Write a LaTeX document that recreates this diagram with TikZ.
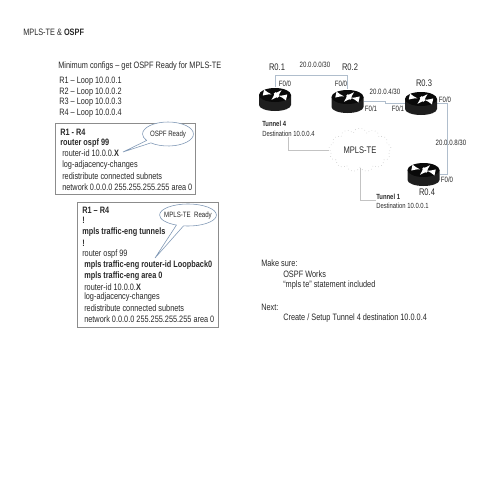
\documentclass[tikz,border=0pt]{standalone}
\usepackage{fontspec}
\setmainfont[FakeStretch=0.79]{Liberation Sans}
\usetikzlibrary{arrows}
\usetikzlibrary{shapes.symbols, shapes.callouts}
\definecolor{mylink}{RGB}{176,190,205}
\definecolor{mybox}{RGB}{140,140,140}
\definecolor{mycall}{RGB}{125,150,180}
\definecolor{mycloud}{RGB}{195,195,195}
\definecolor{myrouter}{RGB}{30,30,30}
\definecolor{mytext}{RGB}{40,40,40}
\tikzset{
  lbl/.style={anchor=west,inner sep=0,text=mytext,font=\fontsize{6.6}{7}\selectfont},
  small/.style={anchor=center,inner sep=0,text=mytext,font=\fontsize{5.5}{6}\selectfont},
  tiny/.style={anchor=west,inner sep=0,text=mytext,font=\fontsize{5.3}{6}\selectfont},
  rname/.style={anchor=center,inner sep=0,text=mytext,font=\fontsize{6.8}{7}\selectfont},
  rnode/.style={inner sep=0,minimum width=0.8cm,minimum height=0.57cm},
  link/.style={color=mylink,line width=0.7},
  tunnel/.style={color=mycloud,line width=0.5},
  cfgbox/.style={draw=mybox,line width=0.6},
  call/.style={shape=ellipse callout,draw=mycall,line width=0.4,fill=white,inner sep=0,text=mytext,font=\fontsize{5.5}{6}\selectfont},
  router/.pic={
    \fill[myrouter] (-16,-4) -- (-16,6) arc[start angle=180,end angle=360,x radius=16,y radius=-6] -- (16,-4) -- cycle;
    \fill[black!70!myrouter] (0,-4) ellipse[x radius=16,y radius=7];
    \foreach \a in {25,205}{
      \draw[-latex,white,line width=1] ({12*cos(\a)},{-4+5.4*sin(\a)}) -- ({4*cos(\a)},{-4+1.8*sin(\a)});
    }
    \foreach \a in {115,295}{
      \draw[-latex,white,line width=1] ({4*cos(\a)+1.5},{-4+1.8*sin(\a)}) -- ({12*cos(\a)+1.5},{-4+5.4*sin(\a)});
    }
  }
}

\begin{document}
\begin{tikzpicture}[x=0.025cm,y=-0.025cm]
\useasboundingbox (0,0) rectangle (480,480);

% title and loopbacks
\node[lbl] (title) at (23,32) {MPLS-TE \& \textbf{OSPF}};
\node[lbl] (min) at (58,66) {Minimum configs -- get OSPF Ready for MPLS-TE};
\node[lbl] (L1) at (59,81) {R1 -- Loop 10.0.0.1};
\node[lbl] (L2) at (59,92) {R2 -- Loop 10.0.0.2};
\node[lbl] (L3) at (59,102) {R3 -- Loop 10.0.0.3};
\node[lbl] (L4) at (59,113) {R4 -- Loop 10.0.0.4};

% first config
\draw[cfgbox] (55,123) rectangle (195,194);
\node[call,minimum width=1.25cm,minimum height=0.6cm,callout absolute pointer={(123,152)}] (C1) at (168,134) {OSPF Ready};
\node[lbl] (A1) at (60,132) {\textbf{R1 - R4}};
\node[lbl] (A2) at (60,143) {\textbf{router ospf 99}};
\node[lbl] (A3) at (62,153) {router-id 10.0.0.\textbf{X}};
\node[lbl] (A4) at (62,165) {log-adjacency-changes};
\node[lbl] (A5) at (62,176) {redistribute connected subnets};
\node[lbl] (A6) at (62,187) {network 0.0.0.0 255.255.255.255 area 0};

% second config
\draw[cfgbox] (77,202) rectangle (218,327);
\node[call,minimum width=1.42cm,minimum height=0.55cm,callout absolute pointer={(155,258)}] (C2) at (188,215) {\makebox[0.9cm][c]{MPLS-TE\ \ Ready}};
\node[lbl] (B1) at (82,210) {\textbf{R1 -- R4}};
\node[lbl] (B2) at (82,220) {\textbf{!}};
\node[lbl] (B3) at (82,232) {\textbf{mpls traffic-eng tunnels}};
\node[lbl] (B4) at (82,243) {\textbf{!}};
\node[lbl] (B5) at (82,254) {router ospf 99};
\node[lbl] (B6) at (84,265) {\textbf{mpls traffic-eng router-id Loopback0}};
\node[lbl] (B7) at (84,276) {\textbf{mpls traffic-eng area 0}};
\node[lbl] (B8) at (84,287) {router-id 10.0.0.\textbf{X}};
\node[lbl] (B9) at (84,297) {log-adjacency-changes};
\node[lbl] (B10) at (84,308) {redistribute connected subnets};
\node[lbl] (B11) at (84,319) {network 0.0.0.0 255.255.255.255 area 0};

% routers
\node[rnode] (R1) at (275,99) {};
\node[rnode] (R2) at (347.5,101) {};
\node[rnode] (R3) at (421,103) {};
\node[rnode] (R4) at (423.5,174) {};

\draw[link] (R1.north) -- ++(0,-12) -| (R2.north);
\draw[link] (R2.east) -- ++(22,0) |- (R3.west);
\draw[link] (R3.east) -- ++(10,0) |- (R4.east);

\pic at (275,99) {router};
\pic at (347.5,101) {router};
\pic at (421,103) {router};
\pic at (423.5,174) {router};

\node[rname] (N1) at (277,67) {R0.1};
\node[rname] (N2) at (350,67) {R0.2};
\node[rname] (N3) at (424,83) {R0.3};
\node[rname] (N4) at (427,192) {R0.4};

\node[small] (net1) at (315,65) {20.0.0.0/30};
\node[small] (net2) at (385,92) {20.0.0.4/30};
\node[small] (net3) at (451,143) {20.0.0.8/30};
\node[small] (F1) at (285,84) {F0/0};
\node[small] (F2) at (341,84) {F0/0};
\node[small] (F3) at (371,109) {F0/1};
\node[small] (F4) at (398,109) {F0/1};
\node[small] (F5) at (445,100) {F0/0};
\node[small] (F6) at (447,180) {F0/0};

% tunnels
\node[draw=mycloud,dotted,shape=cloud,cloud puffs=13,aspect=1.5,inner sep=0,minimum width=1.55cm,minimum height=1.1cm,text=mytext,font=\fontsize{6.8}{7}\selectfont] (TE) at (360,150) {MPLS-TE};
\node[tiny] (T4) at (262,124) {\textbf{Tunnel 4}};
\node[tiny] (D4) at (262,134) {Destination 10.0.0.4};
\node[tiny] (T1) at (376,197) {\textbf{Tunnel 1}};
\node[tiny] (D1) at (376,206) {Destination 10.0.0.1};
\draw[tunnel] (D4.south) |- (TE.west);
\draw[tunnel] (TE.south) |- (T1.south west);

% notes
\node[lbl] (S1) at (261,263) {Make sure:};
\node[lbl] (S2) at (283,274) {OSPF Works};
\node[lbl] (S3) at (283,285) {``mpls te'' statement included};
\node[lbl] (S4) at (261,307) {Next:};
\node[lbl] (S5) at (283,318) {Create / Setup Tunnel 4 destination 10.0.0.4};

\end{tikzpicture}
\end{document}
